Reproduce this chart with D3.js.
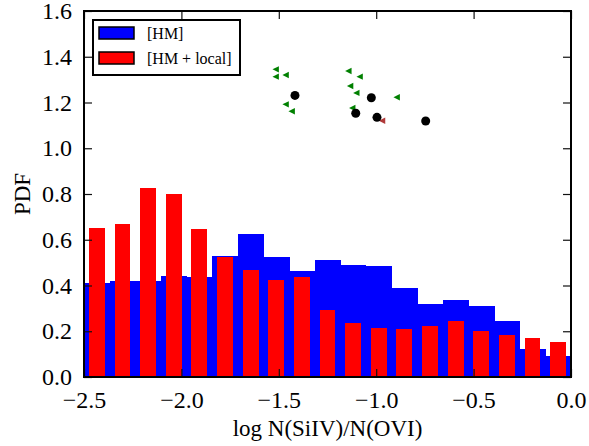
<!DOCTYPE html>
<html lang="en">
  <head>
    <meta charset="utf-8">
    <title>PDF of log N(SiIV)/N(OVI)</title>
    <script src="https://cdn.jsdelivr.net/npm/d3@7"></script>
    <style>
      body { margin: 0; background: #fff; }
      svg text { font-family: "Liberation Serif", "DejaVu Serif", serif; fill: #000; }
    </style>
  </head>
  <body>
    <script>
      // histogram bins (left edges, last value is right edge of the final bin)
      var binEdges = [-2.5, -2.368, -2.237, -2.105, -1.974, -1.842, -1.711, -1.579, -1.447, -1.316,
                      -1.184, -1.053, -0.921, -0.789, -0.658, -0.526, -0.395, -0.263, -0.132, 0.0];
      var hmValues = [0.41, 0.42, 0.42, 0.44, 0.437, 0.53, 0.625, 0.525, 0.463, 0.511,
                      0.49, 0.485, 0.39, 0.32, 0.337, 0.31, 0.245, 0.122, 0.092];
      var localValues = [0.653, 0.67, 0.826, 0.80, 0.647, 0.525, 0.468, 0.424, 0.437, 0.293,
                         0.236, 0.214, 0.21, 0.223, 0.245, 0.20, 0.184, 0.17, 0.153];

      // observed points
      var blackX = [-1.417, -1.025, -1.105, -0.996, -0.746];
      var blackY = [1.231, 1.221, 1.153, 1.135, 1.119];
      var greenX = [-1.516, -1.516, -1.465, -1.465, -1.434, -1.143, -1.085, -1.134, -1.102, -0.895, -1.123];
      var greenY = [1.345, 1.313, 1.320, 1.192, 1.162, 1.338, 1.313, 1.272, 1.242, 1.223, 1.176];
      var redX = [-0.970];
      var redY = [1.120];

      var xTicks = [-2.5, -2.0, -1.5, -1.0, -0.5, 0.0];
      var yTicks = [0.0, 0.2, 0.4, 0.6, 0.8, 1.0, 1.2, 1.4, 1.6];
      var legendLabels = ["[HM]", "[HM + local]"];

      var w = 589, h = 446;
      var pL = 84, pR = 571, pT = 11, pB = 377;

      var svg = d3.select("body").append("svg")
        .attr("width", w)
        .attr("height", h);

      var x = d3.scaleLinear().domain([-2.5, 0]).range([pL, pR]);
      var y = d3.scaleLinear().domain([0, 1.6]).range([pB, pT]);

      var bins = hmValues.map(function(v, i) {
        return { x0: binEdges[i], x1: binEdges[i + 1], hm: v, local: localValues[i] };
      });

      // blue: full-width bars
      svg.append("g").selectAll("rect")
        .data(bins)
        .enter().append("rect")
        .attr("x", function(d) { return x(d.x0); })
        .attr("width", function(d) { return x(d.x1) - x(d.x0) + 0.5; })
        .attr("y", function(d) { return y(d.hm); })
        .attr("height", function(d) { return y(0) - y(d.hm); })
        .attr("fill", "#0000ff")
        .attr("shape-rendering", "crispEdges");

      // red: narrower bars centred in each bin
      var rw = 0.62;
      svg.append("g").selectAll("rect")
        .data(bins)
        .enter().append("rect")
        .attr("x", function(d) {
          var bw = x(d.x1) - x(d.x0);
          return x(d.x0) + bw * (1 - rw) / 2;
        })
        .attr("width", function(d) { return (x(d.x1) - x(d.x0)) * rw; })
        .attr("y", function(d) { return y(d.local); })
        .attr("height", function(d) { return y(0) - y(d.local); })
        .attr("fill", "#ff0000")
        .attr("shape-rendering", "crispEdges");

      // left-pointing triangle markers
      function triangle(s) {
        return "M" + (-s) + ",0L" + s + "," + (-s) + "L" + s + "," + s + "Z";
      }

      svg.append("g").selectAll("path")
        .data(greenX)
        .enter().append("path")
        .attr("d", triangle(3.2))
        .attr("transform", function(d, i) { return "translate(" + x(d) + "," + y(greenY[i]) + ")"; })
        .attr("fill", "#008000");

      svg.append("g").selectAll("path")
        .data(redX)
        .enter().append("path")
        .attr("d", triangle(3.2))
        .attr("transform", function(d, i) { return "translate(" + x(d) + "," + y(redY[i]) + ")"; })
        .attr("fill", "#b03a3a");

      svg.append("g").selectAll("circle")
        .data(blackX)
        .enter().append("circle")
        .attr("cx", function(d) { return x(d); })
        .attr("cy", function(d, i) { return y(blackY[i]); })
        .attr("r", 4.5)
        .attr("fill", "#000");

      // axes with inward ticks on all four sides
      var fmt = d3.format(".1f");
      var xb = svg.append("g")
        .attr("transform", "translate(0," + pB + ")")
        .call(d3.axisBottom(x).tickValues(xTicks).tickFormat(fmt).tickSize(-8).tickPadding(14));
      var xt = svg.append("g")
        .attr("transform", "translate(0," + pT + ")")
        .call(d3.axisTop(x).tickValues(xTicks).tickFormat("").tickSize(-8));
      var yl = svg.append("g")
        .attr("transform", "translate(" + pL + ",0)")
        .call(d3.axisLeft(y).tickValues(yTicks).tickFormat(fmt).tickSize(-8).tickPadding(12));
      var yr = svg.append("g")
        .attr("transform", "translate(" + pR + ",0)")
        .call(d3.axisRight(y).tickValues(yTicks).tickFormat("").tickSize(-8));

      [xb, xt, yl, yr].forEach(function(g) {
        g.select(".domain").remove();
        g.selectAll(".tick line").attr("stroke", "#111").attr("stroke-width", 1.2);
        g.selectAll("text").style("font-size", "24px");
      });

      svg.append("rect")
        .attr("x", pL)
        .attr("y", pT)
        .attr("width", pR - pL)
        .attr("height", pB - pT)
        .attr("fill", "none")
        .attr("stroke", "#000")
        .attr("stroke-width", 2);

      // legend
      var lg = svg.append("g");
      lg.append("rect")
        .attr("x", 93).attr("y", 20)
        .attr("width", 147).attr("height", 55)
        .attr("fill", "#fff")
        .attr("stroke", "#000")
        .attr("stroke-width", 2);
      var legendColors = ["#0000ff", "#ff0000"];
      legendLabels.forEach(function(lab, i) {
        lg.append("rect")
          .attr("x", 99).attr("y", 27 + i * 25)
          .attr("width", 35).attr("height", 12)
          .attr("fill", legendColors[i])
          .attr("stroke", "#000")
          .attr("stroke-width", 1.5);
        lg.append("text")
          .attr("x", 147).attr("y", 39 + i * 25)
          .style("font-size", "16px")
          .text(lab);
      });

      // axis labels
      svg.append("text")
        .attr("x", (pL + pR) / 2)
        .attr("y", 436)
        .attr("text-anchor", "middle")
        .style("font-size", "23px")
        .text("log N(SiIV)/N(OVI)");

      svg.append("text")
        .attr("transform", "rotate(-90)")
        .attr("x", -(pT + pB) / 2)
        .attr("y", 30)
        .attr("text-anchor", "middle")
        .style("font-size", "23px")
        .text("PDF");
    </script>
  </body>
</html>
